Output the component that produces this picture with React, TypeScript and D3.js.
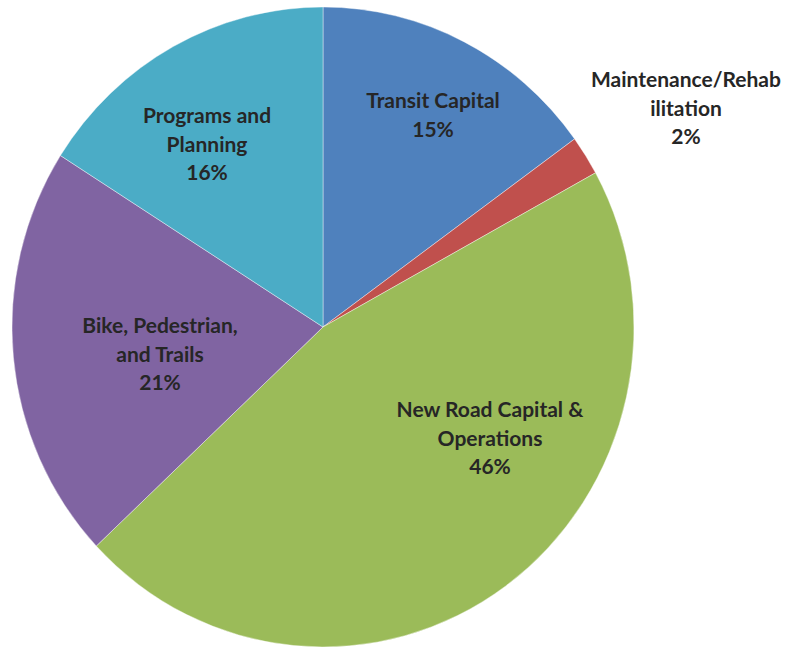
import React from "react";
import * as d3 from "d3";

const categories = [
  "Transit Capital",
  "Maintenance/Rehabilitation",
  "New Road Capital & Operations",
  "Bike, Pedestrian, and Trails",
  "Programs and Planning",
];
const values = [15, 2, 46, 21, 16];
const labelLines = [
  ["Transit Capital"],
  ["Maintenance/Rehab", "ilitation"],
  ["New Road Capital &", "Operations"],
  ["Bike, Pedestrian,", "and Trails"],
  ["Programs and", "Planning"],
];
const colors = ["#4F81BD", "#C0504D", "#9BBB59", "#8064A2", "#4BACC6"];

// layout
const W = 788;
const H = 650;
const CX = 323;
const CY = 327;
const RX = 311;
const RY = 320;
const LINE_H = 28.5;
// label block centers (x, y of first line)
const labelPos: [number, number][] = [
  [433, 103],
  [686, 82],
  [490, 412],
  [160, 328],
  [207, 118],
];

export default function App() {
  const pie = d3.pie<number>().sort(null).value((d) => d)(values);
  const arc = d3.arc<d3.PieArcDatum<number>>().innerRadius(0).outerRadius(RX);

  return (
    <svg
      width={W}
      height={H}
      style={{ position: "absolute", left: 0, top: 0, background: "#fff" }}
    >
      <g transform={`translate(${CX},${CY}) scale(1,${RY / RX})`}>
        {pie.map((p, i) => (
          <path
            key={categories[i]}
            d={arc(p) || ""}
            fill={colors[i]}
            stroke="#ffffff"
            strokeOpacity={0.5}
            strokeWidth={0.8}
            vectorEffect="non-scaling-stroke"
          />
        ))}
      </g>
      <g
        fontFamily="Lato, 'Open Sans', sans-serif"
        fontWeight={700}
        fontSize={21}
        fill="#262626"
        textAnchor="middle"
      >
        {labelLines.map((lines, i) => {
          const [x, y] = labelPos[i];
          const all = [...lines, `${values[i]}%`];
          return (
            <text key={categories[i]} x={x} y={y} dominantBaseline="middle">
              {all.map((t, j) => (
                <tspan key={j} x={x} y={y + j * LINE_H}>
                  {t}
                </tspan>
              ))}
            </text>
          );
        })}
      </g>
    </svg>
  );
}
